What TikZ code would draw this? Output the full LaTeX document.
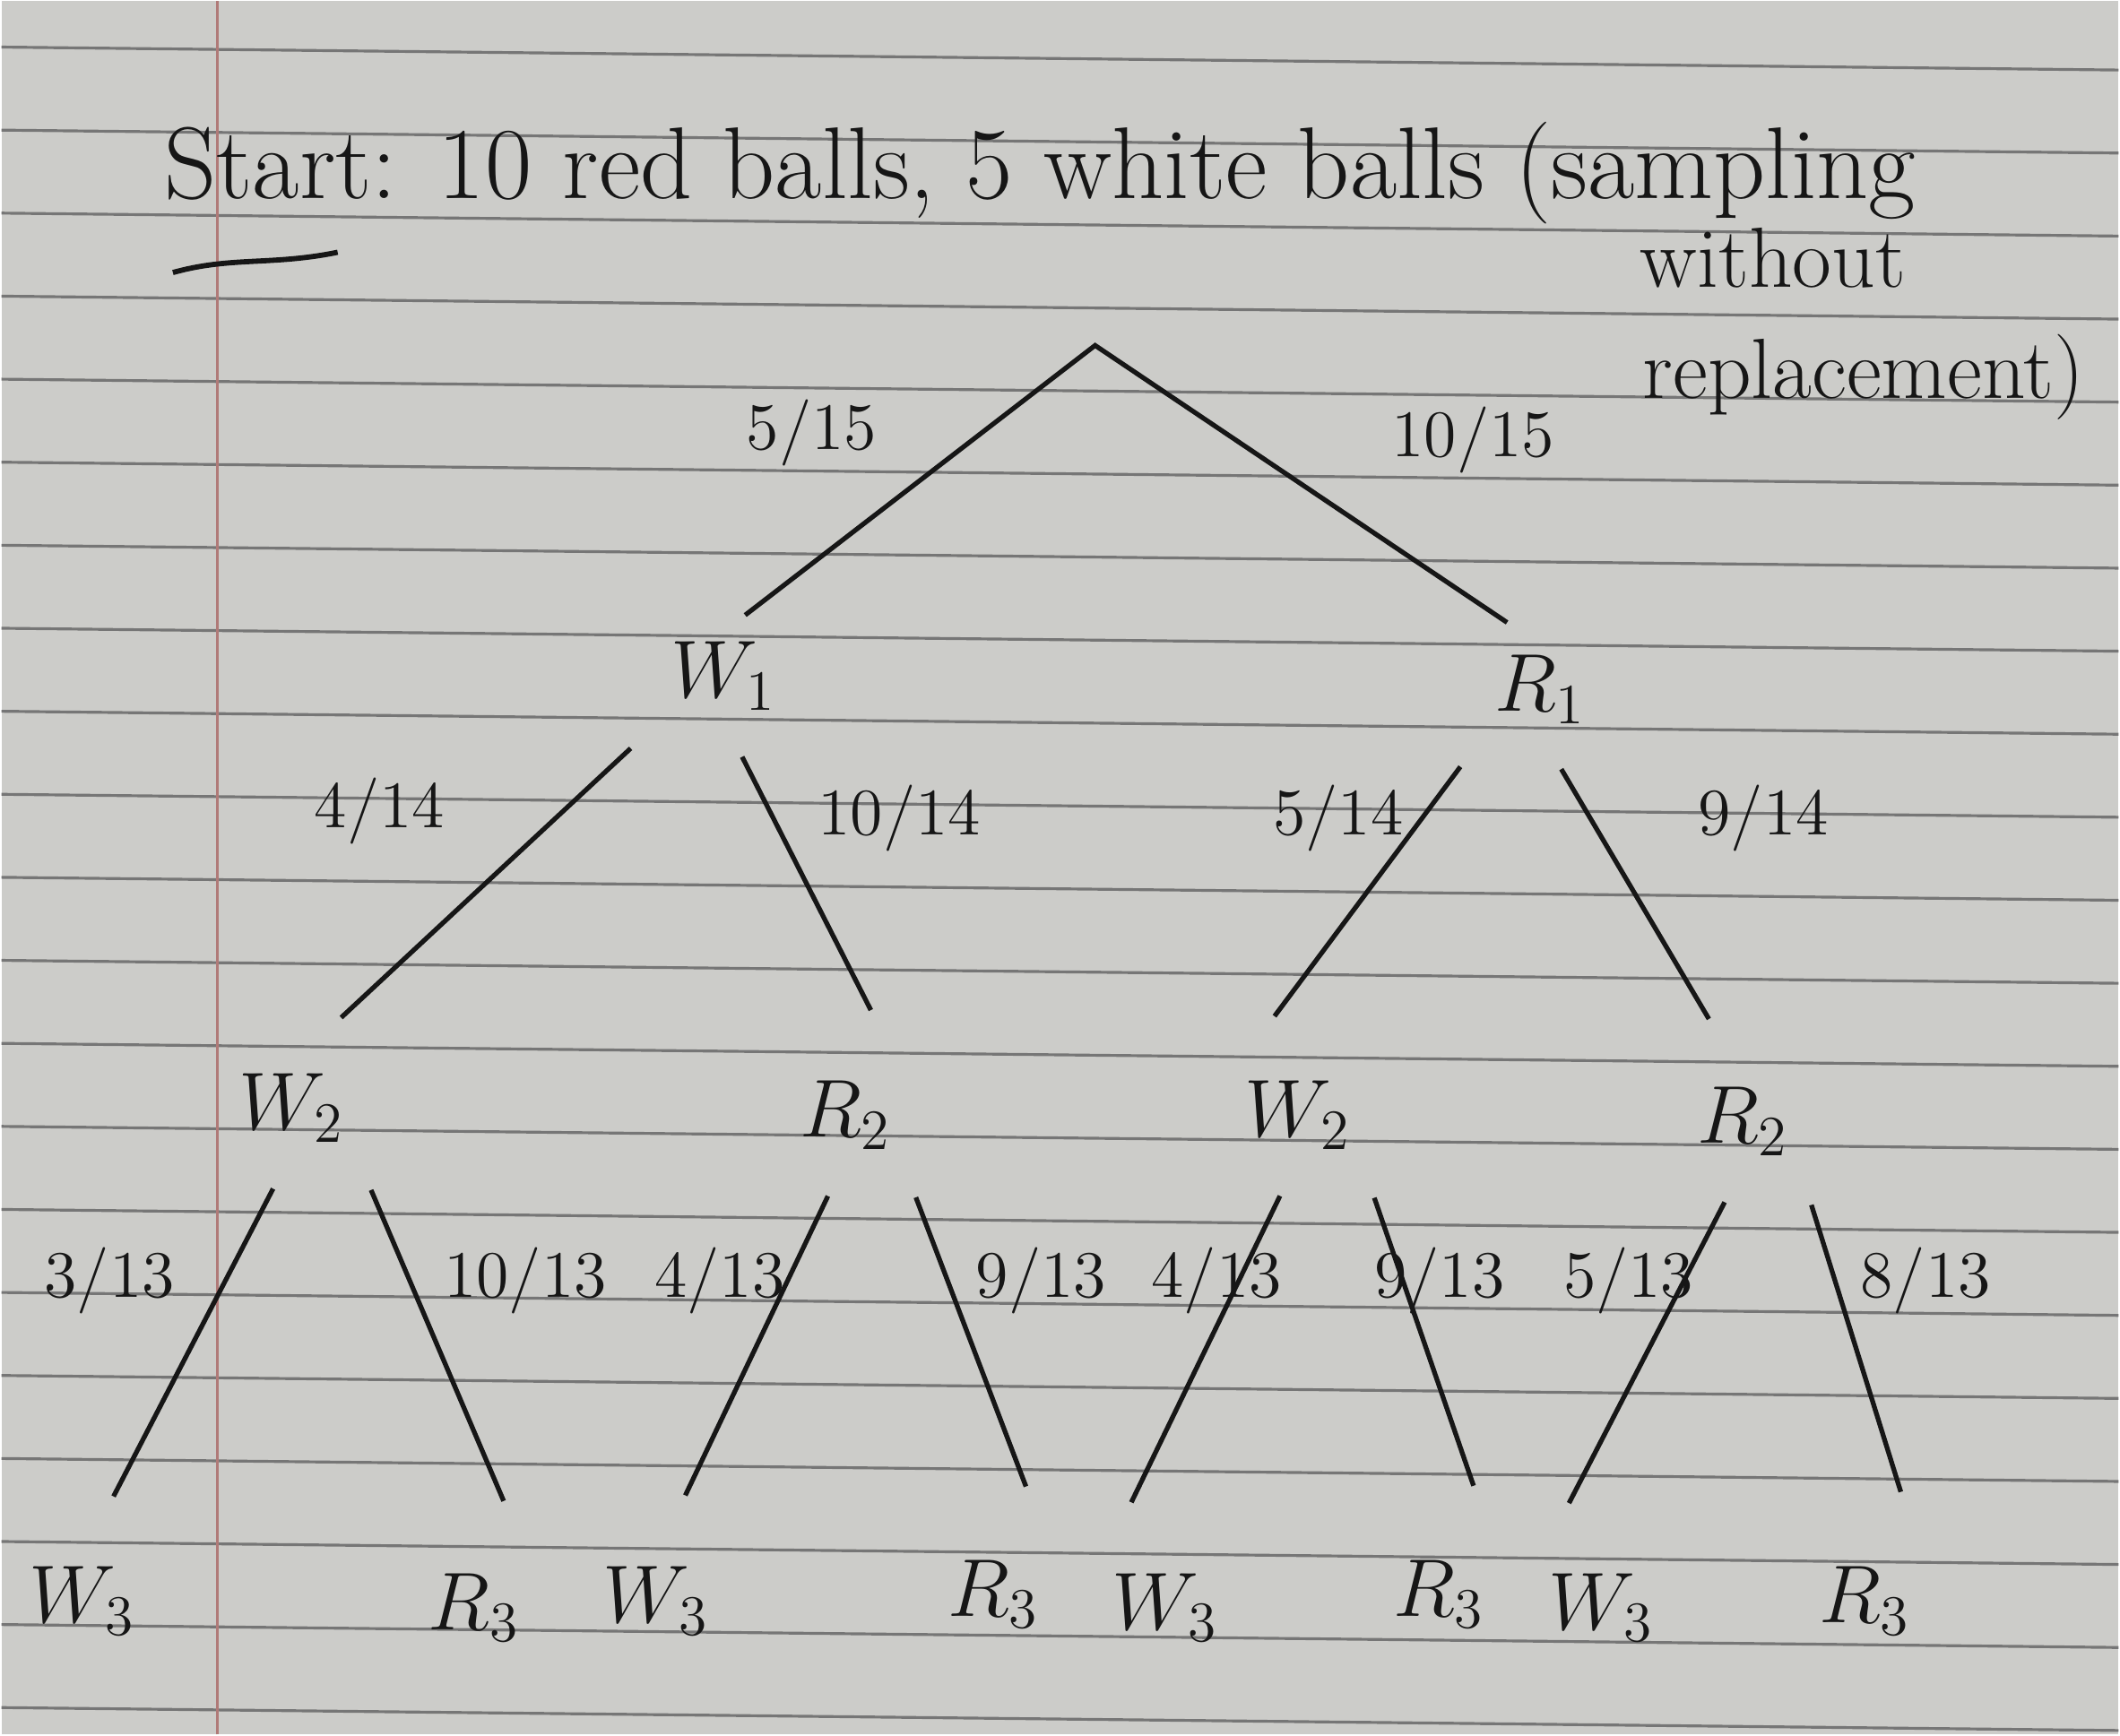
\documentclass[tikz,border=0pt]{standalone}
\usepackage{xcolor}
\usepackage{tikz}
\usetikzlibrary{positioning, calc}
\definecolor{paper}{RGB}{204,204,201}
\definecolor{ruleline}{RGB}{118,118,118}
\definecolor{marginred}{RGB}{176,122,120}
\definecolor{pencil}{RGB}{22,22,22}

\begin{document}
\begin{tikzpicture}[
  ballnode/.style={inner sep=2pt, text=pencil, font=\fontsize{17}{20}\selectfont},
  problabel/.style={inner sep=1pt, text=pencil, font=\fontsize{14}{16}\selectfont},
  notetext/.style={inner sep=0pt, text=pencil, font=\fontsize{18}{22}\selectfont},
  branch/.style={draw=pencil, line width=1pt, shorten <=3mm, shorten >=5mm}
]
  % Paper
  \fill[paper] (0,0) rectangle (15.68,12.84);
  \foreach \k in {-2,...,18}
    \draw[ruleline, line width=0.6pt] (0,{11.27-0.615*\k}) -- (15.68,{11.10-0.615*\k});
  \draw[marginred, line width=0.5pt] (1.6,0) -- (1.6,12.84);
  \useasboundingbox (0,0) rectangle (15.68,12.84);

  % Heading
  \node[notetext, anchor=base west, font=\fontsize{21.5}{24}\selectfont] (title) at (1.2, 11.38) {Start: 10 red balls, 5 white balls (sampling};
  \node[notetext, anchor=base] (without) at (13.12, 10.72) {without};
  \node[notetext, anchor=base west] (replace) at (12.15, 9.90) {replacement)};
  \coordinate (ulstart) at (1.27, 10.83);
  \coordinate (ulend) at (2.49, 10.98);
  \draw[pencil, line width=1.1pt] (ulstart) .. controls (1.7,10.95) and (2.0,10.88) .. (ulend);

  % First draw
  \coordinate (root) at (8.10, 10.29);
  \node[ballnode] (w1) at (5.35, 7.84) {$W_1$};
  \node[ballnode] (r1) at (11.40, 7.74) {$R_1$};
  \node[problabel] (p515) at (6.00, 9.64) {5/15};
  \node[problabel] (p1015) at (10.90, 9.59) {10/15};

  % Second draw
  \node[ballnode] (w2a) at (2.15, 4.64) {$W_2$};
  \node[ballnode] (r2a) at (6.25, 4.59) {$R_2$};
  \node[ballnode] (w2b) at (9.60, 4.59) {$W_2$};
  \node[ballnode] (r2b) at (12.90, 4.54) {$R_2$};
  \node[problabel] (p414) at (2.80, 6.84) {4/14};
  \node[problabel] (p1014) at (6.65, 6.79) {10/14};
  \node[problabel] (p514) at (9.90, 6.79) {5/14};
  \node[problabel] (p914) at (13.05, 6.79) {9/14};

  % Third draw
  \node[ballnode] (w3a) at (0.60, 0.99) {$W_3$};
  \node[ballnode] (r3a) at (3.50, 0.94) {$R_3$};
  \node[ballnode] (w3b) at (4.85, 0.99) {$W_3$};
  \node[ballnode] (r3b) at (7.35, 1.04) {$R_3$};
  \node[ballnode] (w3c) at (8.62, 0.94) {$W_3$};
  \node[ballnode] (r3c) at (10.65, 1.04) {$R_3$};
  \node[ballnode] (w3d) at (11.85, 0.94) {$W_3$};
  \node[ballnode] (r3d) at (13.80, 0.99) {$R_3$};
  \node[problabel] (p313a) at (0.80, 3.36) {3/13};
  \node[problabel] (p1013) at (3.88, 3.36) {10/13};
  \node[problabel] (p413a) at (5.32, 3.36) {4/13};
  \node[problabel] (p913a) at (7.70, 3.36) {9/13};
  \node[problabel] (p413b) at (9.00, 3.36) {4/13};
  \node[problabel] (p913b) at (10.65, 3.36) {9/13};
  \node[problabel] (p513) at (12.05, 3.36) {5/13};
  \node[problabel] (p813) at (14.25, 3.36) {8/13};

  % Branches
  \draw[branch, shorten <=2mm, shorten >=3mm] (w1.north) -- (root) -- (r1.north);
  \draw[branch] (w1.south west) -- (w2a.north);
  \draw[branch] (w1.south) -- (r2a.north east);
  \draw[branch] (r1.south west) -- (w2b.north west);
  \draw[branch] (r1.south) -- (r2b.north);
  \draw[branch] (w2a.south) -- (w3a.north);
  \draw[branch] (w2a.south east) -- (r3a.north east);
  \draw[branch] (r2a.south) -- (w3b.north);
  \draw[branch] (r2a.south east) -- (r3b.north east);
  \draw[branch] (w2b.south) -- (w3c.north west);
  \draw[branch] (w2b.south east) -- (r3c.north east);
  \draw[branch] (r2b.south) -- (w3d.north west);
  \draw[branch] (r2b.south east) -- (r3d.north east);
\end{tikzpicture}
\end{document}
